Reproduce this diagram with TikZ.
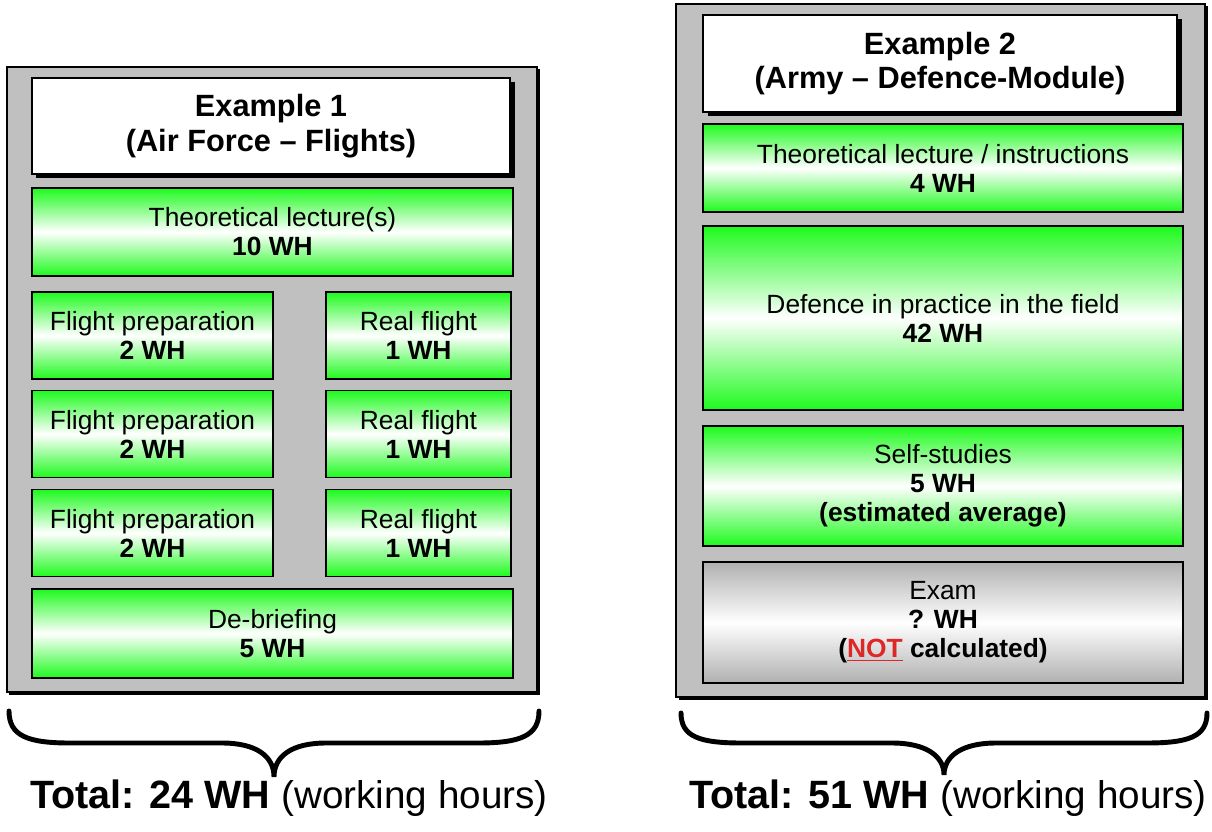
\documentclass[tikz,border=0pt]{standalone}
\usepackage{fontspec}
\setmainfont{Liberation Sans}
\usetikzlibrary{shadows}

\definecolor{panelgray}{RGB}{192,192,192}
\definecolor{boxgreen}{RGB}{30,250,30}
\definecolor{examgray}{RGB}{176,176,176}
\definecolor{notred}{RGB}{222,40,40}

\tikzset{
  sz/.style 2 args={minimum width=#1*0.02cm, minimum height=#2*0.02cm},
  panel/.style={draw=black, line width=1.5pt, fill=panelgray, inner sep=0pt,
    drop shadow={opacity=1, fill=black, shadow xshift=0.05cm, shadow yshift=-0.05cm}},
  titlebox/.style={draw=black, line width=0.9pt, fill=white, inner sep=0pt, align=center,
    font=\fontsize{17.5}{19.5}\selectfont\bfseries,
    drop shadow={opacity=1, fill=black, shadow xshift=0.09cm, shadow yshift=-0.09cm}},
  grnbox/.style={draw=black, line width=0.8pt, inner sep=0pt, align=center,
    top color=boxgreen, bottom color=boxgreen, middle color=white,
    font=\fontsize{15}{16.5}\selectfont},
  graybox/.style={grnbox, top color=examgray, bottom color=examgray, middle color=white},
  brc/.style={line width=2.8pt, line cap=round},
  total/.style={font=\fontsize{22.5}{27}\selectfont\bfseries, inner sep=0pt}
}

\begin{document}
\begin{tikzpicture}[x=0.02cm, y=-0.02cm]
  \useasboundingbox (0,0) rectangle (1212,831);

  %==================== Example 1 ====================
  \node[panel, sz={530}{625}] (pan1) at (272,379.5) {};
  \node[titlebox, sz={478}{96}] (tit1) at (271,126)
    {Example 1\\(Air Force -- Flights)};
  \node[grnbox, sz={481}{88}] (theo1) at (272.5,232)
    {Theoretical lecture(s)\\\textbf{10 WH}};

  % three rows of preparation / flight
  \foreach \r/\yc in {1/335.5, 2/434, 3/533} {
    \node[grnbox, sz={241}{87}] (prep\r) at (152.5,\yc)
      {Flight preparation\\\textbf{2 WH}};
    \node[grnbox, sz={185}{87}] (real\r) at (418.5,\yc)
      {Real flight\\\textbf{1 WH}};
  }

  \node[grnbox, sz={481}{89}] (debr) at (272.5,633.5)
    {De-briefing\\\textbf{5 WH}};

  %==================== Example 2 ====================
  \node[panel, sz={529}{693}] (pan2) at (940.5,350.5) {};
  \node[titlebox, sz={474}{97}] (tit2) at (940,63.5)
    {Example 2\\(Army -- Defence-Module)};
  \node[grnbox, sz={480}{88}] (theo2) at (943,168)
    {Theoretical lecture / instructions\\\textbf{4 WH}};
  \node[grnbox, sz={480}{184}] (field) at (943,318)
    {Defence in practice in the field\\\textbf{42 WH}};
  \node[grnbox, sz={480}{120}] (self) at (943,486)
    {Self-studies\\\textbf{5 WH}\\\textbf{(estimated average)}};
  \node[graybox, sz={480}{121}] (exam) at (943,622.5)
    {Exam\\\textbf{? WH}\\\textbf{(\textcolor{notred}{\underline{NOT}} calculated)}};

  %==================== Braces and totals ====================
  \coordinate (b1l) at (9,711);
  \coordinate (b1r) at (539,711);
  \coordinate (b1t) at (274,777);
  \draw[brc] (b1l) .. controls (9,736) and (28,743) .. (70,743) -- (222,743)
    .. controls (256,743) and (274,756) .. (b1t)
    .. controls (274,756) and (292,743) .. (326,743) -- (478,743)
    .. controls (520,743) and (539,736) .. (b1r);

  \coordinate (b2l) at (681,713);
  \coordinate (b2r) at (1207,713);
  \coordinate (b2t) at (944,775);
  \draw[brc] (b2l) .. controls (681,737) and (700,743) .. (742,743) -- (892,743)
    .. controls (926,743) and (944,756) .. (b2t)
    .. controls (944,756) and (962,743) .. (996,743) -- (1146,743)
    .. controls (1188,743) and (1207,737) .. (b2r);

  \node[total, anchor=west] (tot1) at (30,798)
    {Total: 24 WH \mdseries\fontsize{22}{26}\selectfont(working hours)};
  \node[total, anchor=east] (tot2) at (1207,798)
    {Total: 51 WH \mdseries\fontsize{22}{26}\selectfont(working hours)};
\end{tikzpicture}
\end{document}
